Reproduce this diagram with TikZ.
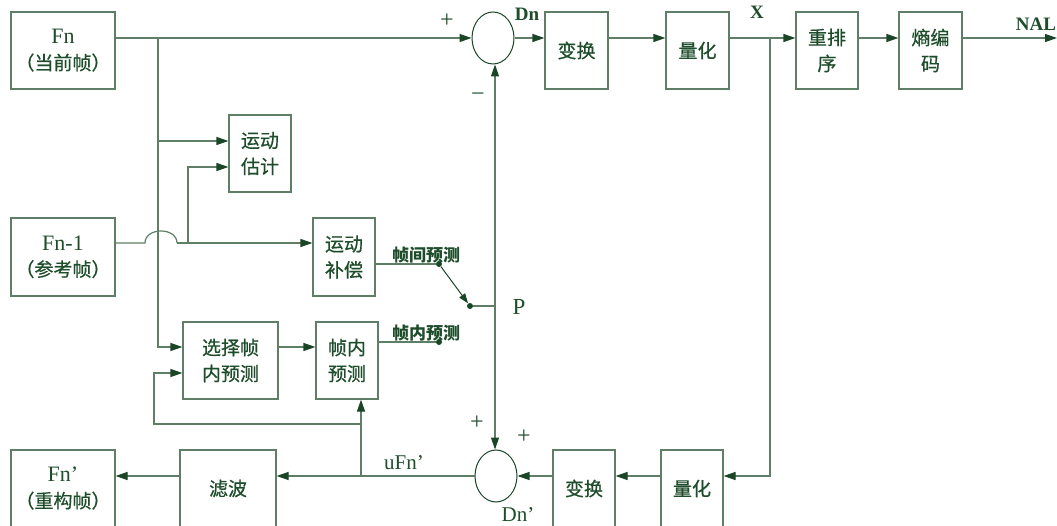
\documentclass[tikz,border=0pt]{standalone}
\usepackage{fontspec}
\setmainfont{Liberation Serif}
\newfontfamily\cjk[FakeBold=0.6]{Noto Sans CJK SC}
\newfontfamily\cjkplain{Noto Sans CJK SC}
\usetikzlibrary{arrows.meta,shapes.geometric}
\definecolor{txtc}{HTML}{1E4D2B}
\definecolor{linec}{HTML}{5E7F66}
\definecolor{darkc}{HTML}{1A4526}
\begin{document}
\begin{tikzpicture}[x=1pt,y=-1pt,
  box/.style={draw=linec,line width=1.2pt,text=txtc,align=center,inner sep=0pt,
    font=\cjk\fontsize{19}{26}\selectfont},
  sumc/.style={ellipse,draw=darkc,line width=1pt,minimum width=42pt,minimum height=52pt,inner sep=0pt},
  ln/.style={draw=linec,line width=1.2pt},
  arr/.style={ln,-{Triangle[length=12pt,width=8pt,color=darkc]}},
  sarr/.style={draw=darkc,line width=1pt,-{Triangle[length=10pt,width=7pt,color=darkc]}},
  dot/.style={circle,fill=darkc,inner sep=0pt,minimum size=6pt},
  lbl/.style={text=txtc,inner sep=0pt,font=\fontsize{21}{24}\selectfont},
  pm/.style={text=txtc,inner sep=0pt,font=\fontsize{24}{26}\selectfont},
  blbl/.style={text=txtc,inner sep=0pt,font=\bfseries\fontsize{19}{22}\selectfont},
  clbl/.style={text=txtc,inner sep=0pt,font=\cjkplain\bfseries\fontsize{17}{19}\selectfont}
]
\useasboundingbox (0,0) rectangle (1057,526);
% boxes
\node[box,minimum width=104pt,minimum height=77pt] (fn) at (63,50.5) {{\rmfamily\fontsize{22}{26}\selectfont Fn}\\（当前帧）};
\node[box,minimum width=62pt,minimum height=77pt] (me) at (260,153.5) {运动\\估计};
\node[box,minimum width=104pt,minimum height=78pt] (fn1) at (63,257) {{\rmfamily\fontsize{22}{26}\selectfont Fn-1}\\（参考帧）};
\node[box,minimum width=62pt,minimum height=78pt] (mc) at (344,257) {运动\\补偿};
\node[box,minimum width=95pt,minimum height=77pt] (sel) at (230.5,360.5) {选择帧\\内预测};
\node[box,minimum width=62pt,minimum height=77pt] (fi) at (347,360.5) {帧内\\预测};
\node[sumc] (sum1) at (493,38) {};
\node[box,minimum width=63pt,minimum height=77pt] (bh1) at (576.5,50.5) {变换};
\node[box,minimum width=63pt,minimum height=77pt] (lh1) at (697.5,50.5) {量化};
\node[box,minimum width=62pt,minimum height=77pt] (cpx) at (827,50.5) {重排\\序};
\node[box,minimum width=63pt,minimum height=77pt] (sh) at (930.5,50.5) {熵编\\码};
\node[box,minimum width=104pt,minimum height=77pt] (fnr) at (63,488.5) {{\rmfamily\fontsize{22}{26}\selectfont Fn’}\\（重构帧）};
\node[box,minimum width=96pt,minimum height=77pt] (lb) at (228,488.5) {滤波};
\node[sumc] (sum2) at (496,476) {};
\node[box,minimum width=62pt,minimum height=77pt] (bh2) at (584,488.5) {变换};
\node[box,minimum width=62pt,minimum height=77pt] (lh2) at (692,488.5) {量化};
% coordinates
\coordinate (nal) at (1057,38);
\coordinate (xj) at (770,38);
\coordinate (fj) at (158,38);
\coordinate (b1) at (158,141);
\coordinate (b2) at (158,347);
\coordinate (h1) at (145,243);
\coordinate (h2) at (177,243);
\coordinate (v1) at (188,243);
\coordinate (v2) at (188,167);
\coordinate (uj) at (361,476);
\coordinate (lj) at (361,424);
\coordinate (lc) at (154,424);
\coordinate (lc2) at (154,373);
\coordinate (pj) at (495,306);
\node[dot] (d1) at (439,264) {};
\node[dot] (d2) at (439,342) {};
\node[dot] (d3) at (470,306) {};
% top row
\draw[arr] (fn.east |- sum1) -- (sum1.west);
\draw[arr] (sum1.east) -- (bh1.west |- sum1);
\draw[arr] (bh1.east |- sum1) -- (lh1.west |- sum1);
\draw[arr] (lh1.east |- sum1) -- (cpx.west |- sum1);
\draw[arr] (cpx.east |- sum1) -- (sh.west |- sum1);
\draw[arr] (sh.east |- sum1) -- (nal);
\draw[arr] (xj) |- (lh2.east |- sum2);
% bottom row
\draw[arr] (lh2.west |- sum2) -- (bh2.east |- sum2);
\draw[arr] (bh2.west |- sum2) -- (sum2.east);
\draw[arr] (sum2.west) -- (lb.east |- sum2);
\draw[arr] (lb.west |- sum2) -- (fnr.east |- sum2);
\draw[arr] (uj) -- (uj |- fi.south);
\draw[arr] (lj) -- (lc) -- (lc2) -- (lc2 -| sel.west);
% Fn branches
\draw[arr] (fj) -- (b2) -- (b2 -| sel.west);
\draw[arr] (b1) -- (b1 -| me.west);
% Fn-1
\draw[ln] (fn1.east |- h1) -- (h1) .. controls (145,227) and (177,227) .. (h2);
\draw[arr] (h2) -- (h2 -| mc.west);
\draw[arr] (v1) -- (v2) -- (v2 -| me.west);
\draw[arr] (sel.east |- b2) -- (fi.west |- b2);
% switch
\draw[ln] (mc.east |- d1) -- (d1);
\draw[ln] (fi.east |- d2) -- (d2);
\draw[sarr] (d1) -- (d3);
\draw[ln] (d3) -- (pj);
\draw[arr] (pj) -- (pj |- sum1.south);
\draw[arr] (pj) -- (pj |- sum2.north);
% labels
\node[pm] (lp1) at (447,21) {+};
\node[blbl] (ldn) at (527,14) {Dn};
\node[pm] (lm) at (478,97) {−};
\node[blbl] (lx) at (757,12) {X};
\node[blbl] (lnal) at (1036,24) {NAL};
\node[clbl] (lj1) at (426,255) {帧间预测};
\node[clbl] (lj2) at (426,333) {帧内预测};
\node[lbl,font=\fontsize{23}{25}\selectfont] (lpp) at (519,307) {P};
\node[lbl] (lufn) at (404,463) {uFn’};
\node[pm] (lp2) at (477,423) {+};
\node[pm] (lp3) at (524,437) {+};
\node[lbl] (ldn2) at (518,515) {Dn’};
\end{tikzpicture}
\end{document}
